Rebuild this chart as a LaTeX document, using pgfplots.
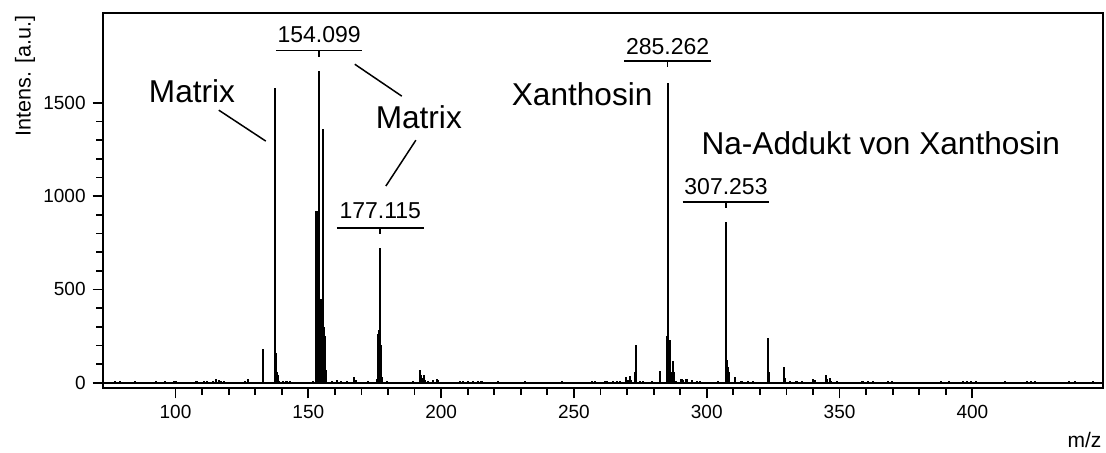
\documentclass[border=0pt]{standalone}
\usepackage{fontspec}
\setmainfont{Liberation Sans}
\usepackage{pgfplots}
\pgfplotsset{compat=1.18}
\begin{document}
\begin{tikzpicture}
\begin{axis}[
  scale only axis,
  width=500.3pt, height=187.5pt,
  xmin=72.6, xmax=449.3,
  ymin=-30, ymax=1980,
  clip=false,
  axis line style={line width=1pt},
  tick align=outside,
  xtick pos=bottom, ytick pos=left,
  xtick={100,150,200,250,300,350,400},
  ytick={0,500,1000,1500},
  minor x tick num=4,
  minor y tick num=4,
  major tick length=5pt,
  minor tick length=3.2pt,
  every tick/.append style={black, line width=0.9pt},
  /pgf/number format/assume math mode=true,
  /pgf/number format/1000 sep={},
  tick label style={font=\fontsize{9.5}{11}\selectfont},
  ylabel={Intens. [a.u.]},
  ylabel style={at={(rel axis cs:-0.0777,0.9955)}, anchor=east, inner sep=0pt, font=\fontsize{10.8}{12}\selectfont},
  xlabel={m/z},
  xlabel style={at={(rel axis cs:0.9812,-0.139)}, anchor=center, inner sep=0pt, font=\fontsize{10.5}{12}\selectfont},
]
% baseline
\addplot[black, line width=0.9pt] coordinates {(72.6,0) (449.3,0)};
% spectrum as sticks
\addplot[ycomb, black, line width=1.05pt, mark=none] coordinates {
(77.1,10) (79.0,8) (84.7,8) (92.8,8) (95.9,8) (99.4,10) (100.1,10)
(107.9,8) (110.7,10) (111.7,8) (114.2,10) (115.4,20) (116.3,12) (117.3,10) (118.2,8)
(126.1,10) (127.4,22)
(132.9,100) (133.0,180) (133.1,80)
(137.3,200) (137.4,1579) (137.5,300) (137.6,200) (137.7,160) (137.8,125) (137.9,120) (138.0,120) (138.2,60) (138.4,40) (138.7,20) (139.0,10)
(140.5,8) (141.8,8) (143.0,8) (151.8,8)
(152.8,40) (152.9,300) (153.0,915) (153.1,918) (153.2,915) (153.3,900) (153.4,600) (153.5,420)
(153.6,400) (153.7,400) (153.8,420) (153.9,450) (154.0,500) (154.1,1672) (154.2,450) (154.3,420)
(154.4,380) (154.5,350) (154.6,340) (154.7,340) (154.8,350) (154.9,360) (155.0,380) (155.1,400)
(155.2,420) (155.3,450) (155.4,500) (155.5,1360) (155.6,450) (155.7,380) (155.8,300) (155.9,270)
(156.0,255) (156.1,248) (156.2,248) (156.3,200) (156.4,120) (156.5,70) (156.6,40) (156.7,20)
(159.0,10) (160.8,12) (162.4,10) (164.5,8) (167.3,30) (168.0,12) (172.5,8)
(176.0,20) (176.2,60) (176.3,150) (176.4,260) (176.5,275) (176.6,275) (176.7,270) (176.8,280)
(176.9,300) (177.0,330) (177.1,722) (177.2,200) (177.3,120) (177.4,90) (177.5,60) (177.7,30) (177.9,15)
(179.5,8) (189.5,10)
(192.0,66) (192.3,40) (192.6,25) (193.5,43) (193.8,15) (195.1,10) (197.0,12) (198.5,21) (198.9,15)
(207.1,8) (208.3,8) (210.2,8) (212.1,8) (213.9,8) (215.2,8) (221.4,8) (231.5,8) (235.3,6)
(245.4,8) (250.4,6) (256.7,8) (257.9,8) (261.7,8) (262.3,8) (264.8,8) (266.1,8) (267.3,10)
(269.5,30) (270.4,15) (271.1,34) (271.6,12)
(273.2,60) (273.3,204) (273.4,50) (274.9,10) (276.1,10) (279.3,8)
(282.3,30) (282.4,62) (282.5,20)
(285.1,100) (285.2,250) (285.3,1609) (285.4,250) (285.5,229) (285.6,229) (285.8,229) (286.0,229)
(286.2,150) (286.4,60) (286.6,30) (286.9,50) (287.2,100) (287.35,116) (287.5,60) (287.7,20)
(288.3,10) (290.5,20) (291.2,15) (292.4,18) (294.3,12) (296.2,8) (297.5,8) (304.3,8)
(307.1,100) (307.15,200) (307.25,859) (307.35,200) (307.5,120) (307.7,84) (307.9,84) (308.1,84)
(308.3,60) (308.5,20) (310.6,30) (313.1,8) (315.6,8) (317.5,8)
(323.1,60) (323.2,241) (323.3,60) (323.5,20)
(329.1,30) (329.2,84) (329.3,25) (331.3,8) (333.8,8) (335.7,8)
(340.1,20) (340.6,12) (344.9,43) (345.4,20) (346.4,25) (346.9,10) (348.9,8)
(358.5,8) (358.9,8) (360.8,8) (362.7,8) (368.3,8) (369.6,8) (372.8,6) (375.0,6) (381.8,6)
(388.2,8) (391.2,8) (394.0,6) (396.5,8) (398.0,8) (399.5,8) (401.3,8) (405.9,6) (407.8,6)
(410.0,6) (412.3,8) (414.2,6) (415.3,6) (417.2,6) (420.6,8) (422.0,8) (423.6,8) (430.0,6)
(436.4,8) (438.7,8) (443.5,6) (445.4,8) (446.9,6)
};
% peak labels
\draw[line width=0.9pt] (137.8,1781) -- (170.4,1781);
\draw[line width=0.8pt] (154.1,1781) -- (154.1,1744);
\node[inner sep=0pt, font=\fontsize{11.5}{13}\selectfont] at (154.1,1866) {154.099};
\draw[line width=0.9pt] (160.8,830) -- (193.5,830);
\draw[line width=0.8pt] (177.1,830) -- (177.1,798);
\node[inner sep=0pt, font=\fontsize{11.5}{13}\selectfont] at (177.1,920) {177.115};
\draw[line width=0.9pt] (269.0,1723) -- (301.6,1723);
\draw[line width=0.8pt] (285.3,1723) -- (285.3,1691);
\node[inner sep=0pt, font=\fontsize{11.5}{13}\selectfont] at (285.3,1800) {285.262};
\draw[line width=0.9pt] (290.9,970) -- (323.6,970);
\draw[line width=0.8pt] (307.25,970) -- (307.25,936);
\node[inner sep=0pt, font=\fontsize{11.5}{13}\selectfont] at (307.25,1050) {307.253};
% annotations
\node[inner sep=0pt, font=\fontsize{15.8}{19}\selectfont] at (106.2,1564) {Matrix};
\draw[line width=0.75pt] (116.3,1461) -- (134.0,1295);
\node[inner sep=0pt, font=\fontsize{15.8}{19}\selectfont] at (191.6,1421) {Matrix};
\draw[line width=0.75pt] (167.5,1707) -- (185.2,1536);
\draw[line width=0.75pt] (190.5,1300) -- (179.2,1054);
\node[inner sep=0pt, font=\fontsize{15.8}{19}\selectfont] at (253.1,1546) {Xanthosin};
\node[inner sep=0pt, font=\fontsize{15.8}{19}\selectfont] at (365.5,1282) {Na-Addukt von Xanthosin};
\coordinate (SW) at (rel axis cs:0,0);
\end{axis}
\pgfresetboundingbox
\path[use as bounding box] (SW) ++(-51.35pt,-31.85pt) rectangle ++(553pt,226pt);
\end{tikzpicture}
\end{document}
